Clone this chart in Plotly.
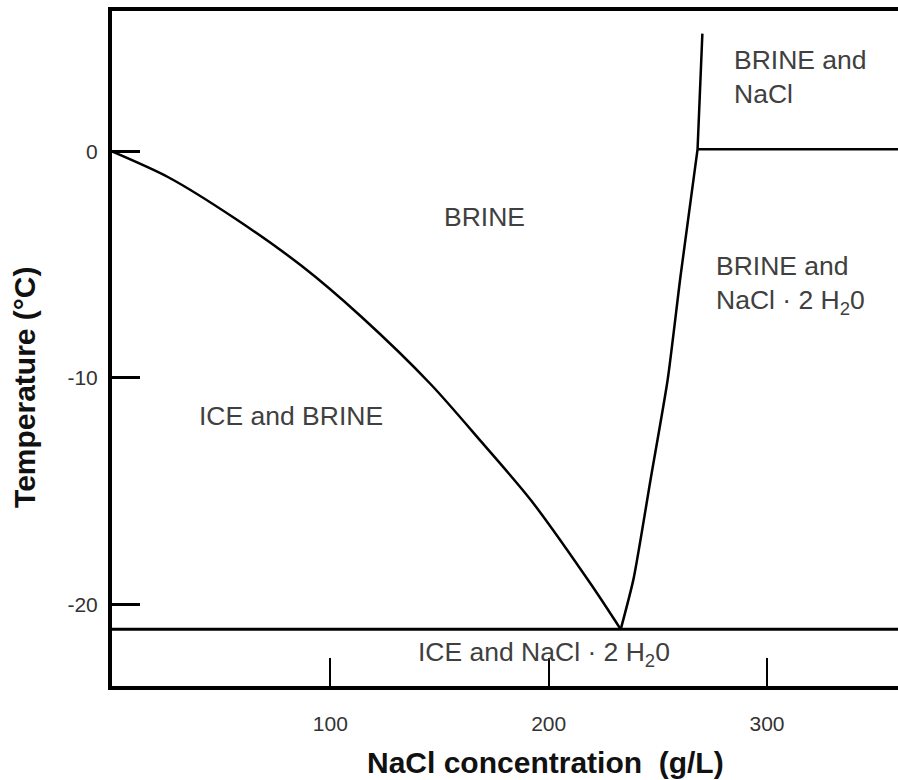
import plotly.graph_objects as go

# Freezing-point (ice liquidus) curve: NaCl g/L vs temperature °C
ice_conc = [0, 26.0, 56.2, 86.8, 114.2, 146.2, 169.0, 191.9, 219.3, 233.0]
ice_temp = [0, -1.15, -2.95, -5.05, -7.3, -10.3, -12.8, -15.4, -19.1, -21.1]

# Solubility of NaCl·2H2O (eutectic up to the peritectic point)
hyd_conc = [233.0, 238.9, 246.7, 254.5, 260.4, 268.2]
hyd_temp = [-21.1, -18.86, -14.47, -10.08, -5.5, 0.1]

# Solubility of anhydrous NaCl above the peritectic point
salt_conc = [268.2, 270.4]
salt_temp = [0.1, 5.2]

# Horizontal phase boundaries
eutectic_temp = -21.1
peritectic_temp = 0.1
x_min, x_max = 0, 360
y_min, y_max = -23.6, 6.2

x_ticks = [100, 200, 300]
y_ticks = [0, -10, -20]

regions = [
    ("BRINE", 170.4, -2.9, "center"),
    ("ICE and BRINE", 82.2, -11.7, "center"),
    ("BRINE and<br>NaCl", 284.1, 3.3, "left"),
    ("BRINE and<br>NaCl · 2 H<sub>2</sub>0", 275.9, -5.9, "left"),
    ("ICE and NaCl · 2 H<sub>2</sub>0", 198.0, -22.2, "center"),
]

FONT = "Liberation Sans, Arial, Helvetica, sans-serif"
line_style = dict(color="black", width=2.5)

fig = go.Figure()
fig.add_trace(go.Scatter(x=ice_conc, y=ice_temp, mode="lines",
                         line=dict(line_style, shape="spline", smoothing=0.8)))
fig.add_trace(go.Scatter(x=hyd_conc, y=hyd_temp, mode="lines",
                         line=dict(line_style, shape="spline", smoothing=0.6)))
fig.add_trace(go.Scatter(x=salt_conc, y=salt_temp, mode="lines", line=line_style))
fig.add_trace(go.Scatter(x=[salt_conc[0], x_max], y=[peritectic_temp, peritectic_temp],
                         mode="lines", line=line_style))
fig.add_trace(go.Scatter(x=[x_min, x_max], y=[eutectic_temp, eutectic_temp],
                         mode="lines", line=dict(color="black", width=3)))

for text, x, y, align in regions:
    fig.add_annotation(x=x, y=y, text=text, showarrow=False, align=align,
                       xanchor="left" if align == "left" else "center",
                       yanchor="middle",
                       font=dict(family=FONT, size=26.5, color="#404040"))

# Axis titles
fig.add_annotation(xref="paper", yref="paper", x=0.551, y=-0.1126,
                   text="<b>NaCl concentration\u00a0\u00a0(g/L)</b>", showarrow=False,
                   xanchor="center", yanchor="middle",
                   font=dict(family=FONT, size=30, color="#111111"))
fig.add_annotation(xref="paper", yref="paper", x=-0.1107, y=0.443,
                   text="<b>Temperature (°C)</b>", showarrow=False, textangle=-90,
                   xanchor="center", yanchor="middle",
                   font=dict(family=FONT, size=30, color="#111111"))

fig.update_xaxes(
    range=[x_min, x_max], tickvals=x_ticks, ticktext=[str(v) for v in x_ticks],
    ticks="inside", ticklen=28, tickwidth=2, tickcolor="black",
    showline=True, linewidth=4, linecolor="black", mirror=True,
    showgrid=False, zeroline=False, ticklabelstandoff=16,
    tickfont=dict(family=FONT, size=21, color="#333333"),
)
fig.update_yaxes(
    range=[y_min, y_max], tickvals=y_ticks, ticktext=[str(v) for v in y_ticks],
    ticks="inside", ticklen=28, tickwidth=3, tickcolor="black",
    showline=True, linewidth=4, linecolor="black", mirror=False,
    showgrid=False, zeroline=False, ticklabelstandoff=6,
    tickfont=dict(family=FONT, size=21, color="#333333"),
)

fig.update_layout(
    width=898, height=780, showlegend=False,
    margin=dict(l=112, r=0, t=11, b=94),
    paper_bgcolor="white", plot_bgcolor="white",
)

fig.write_html("out.html")
